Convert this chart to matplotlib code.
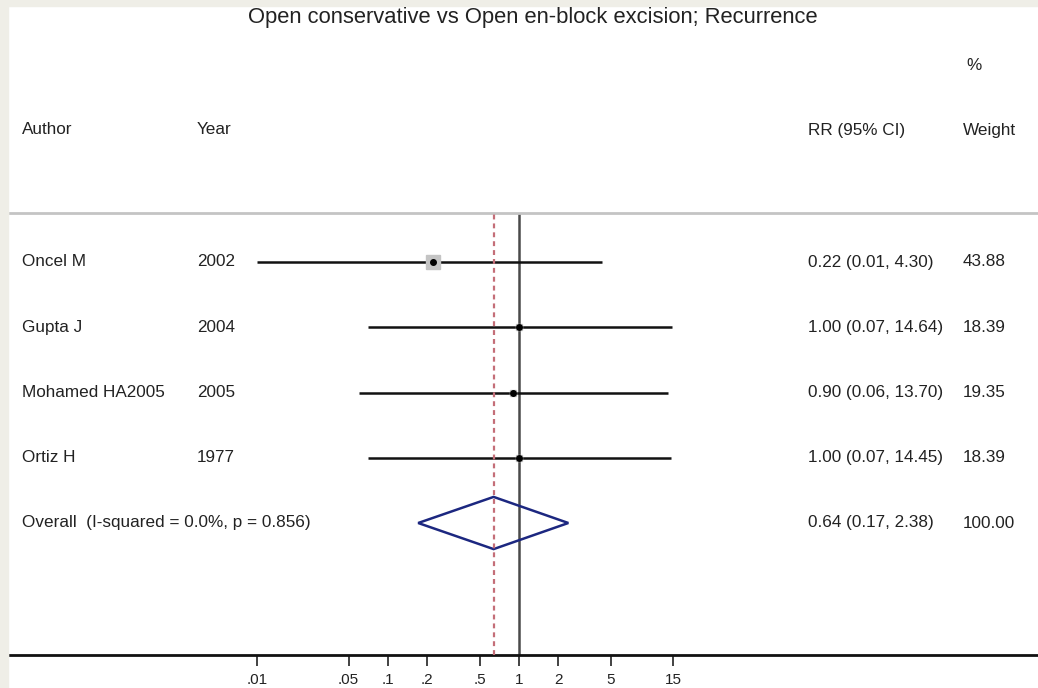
import numpy as np
import matplotlib.pyplot as plt
from matplotlib.patches import Rectangle, Polygon
from matplotlib.transforms import blended_transform_factory

# study data
authors = ['Oncel M', 'Gupta J', 'Mohamed HA2005', 'Ortiz H']
years = ['2002', '2004', '2005', '1977']
rr = [0.22, 1.00, 0.90, 1.00]
ci_lo = [0.01, 0.07, 0.06, 0.07]
ci_hi = [4.30, 14.64, 13.70, 14.45]
weights = [43.88, 18.39, 19.35, 18.39]

# pooled estimate
overall_label = 'Overall  (I-squared = 0.0%, p = 0.856)'
overall_rr, overall_lo, overall_hi = 0.64, 0.17, 2.38
overall_weight = 100.00

tick_vals = [0.01, 0.05, 0.1, 0.2, 0.5, 1, 2, 5, 15]
tick_labels = ['.01', '.05', '.1', '.2', '.5', '1', '2', '5', '15']

plt.rcParams['font.family'] = ['Liberation Sans', 'DejaVu Sans']
W, H = 1038, 688
fig = plt.figure(figsize=(W / 100, H / 100), dpi=100)
fig.patch.set_facecolor('white')
# beige page edges
fig.patches.append(Rectangle((0, 1 - 6 / H), 1, 6 / H, transform=fig.transFigure,
                             color='#efeee7', zorder=0))
fig.patches.append(Rectangle((0, 0), 8 / W, 1, transform=fig.transFigure,
                             color='#efeee7', zorder=0))

ax = fig.add_axes([10 / W, (H - 655) / H, (W - 10) / W, (655 - 213) / H])
ax.set_facecolor('none')
ax.set_xscale('log')
ax.set_xlim(10 ** ((10 - 519) / 131), 10 ** ((W - 519) / 131))
ax.set_ylim((655 - 262) / 65.25, (213 - 262) / 65.25)

for s in ['left', 'right']:
    ax.spines[s].set_visible(False)
ax.spines['bottom'].set_linewidth(2)
ax.spines['bottom'].set_color('#111111')
ax.spines['top'].set_linewidth(2)
ax.spines['top'].set_color('#c4c4c4')
ax.set_yticks([])
ax.set_xticks(tick_vals)
ax.set_xticklabels(tick_labels)
ax.xaxis.set_minor_locator(plt.NullLocator())
ax.tick_params(axis='x', length=8, width=1.2, color='#222222', labelsize=11,
               labelcolor='#222222', pad=5)

# reference lines
ax.axvline(1, color='#4a4a4a', lw=1.8, zorder=2)
ax.axvline(overall_rr, color='#c46e78', lw=1.6, ls=(0, (2.2, 1.8)), zorder=6)

rows = np.arange(len(authors))
ax.hlines(rows, ci_lo, ci_hi, color='#111111', lw=1.8, zorder=3)
for y, r, w in zip(rows, rr, weights):
    ax.plot(r, y, 's', ms=10 * w / max(weights), color='#c4c4c4', zorder=4)
    ax.plot(r, y, 'o', ms=4, color='#000000', zorder=5)

oy = len(authors)
diamond = Polygon([(overall_lo, oy), (overall_rr, oy - 0.4),
                   (overall_hi, oy), (overall_rr, oy + 0.4)],
                  closed=True, fill=False, edgecolor='#1c2780', lw=1.8, zorder=4)
ax.add_patch(diamond)

# text columns
tr = blended_transform_factory(fig.transFigure, ax.transData)
tc = '#222222'
fs = 12.3
for y, a, yr, r, lo, hi, w in zip(rows, authors, years, rr, ci_lo, ci_hi, weights):
    ax.text(22 / W, y, a, transform=tr, fontsize=fs, color=tc, va='center')
    ax.text(197 / W, y, yr, transform=tr, fontsize=fs, color=tc, va='center')
    ax.text(808 / W, y, f'{r:.2f} ({lo:.2f}, {hi:.2f})', transform=tr,
            fontsize=fs, color=tc, va='center')
    ax.text(963 / W, y, f'{w:.2f}', transform=tr, fontsize=fs, color=tc, va='center')

ax.text(22 / W, oy, overall_label, transform=tr, fontsize=fs, color=tc, va='center')
ax.text(808 / W, oy, f'{overall_rr:.2f} ({overall_lo:.2f}, {overall_hi:.2f})',
        transform=tr, fontsize=fs, color=tc, va='center')
ax.text(963 / W, oy, f'{overall_weight:.2f}', transform=tr, fontsize=fs, color=tc,
        va='center')

hy = (130 - 262) / 65.25
for x, s in [(22, 'Author'), (197, 'Year'), (808, 'RR (95% CI)'), (963, 'Weight')]:
    ax.text(x / W, hy, s, transform=tr, fontsize=fs, color=tc, va='center', clip_on=False)
ax.text(966 / W, (66 - 262) / 65.25, '%', transform=tr, fontsize=fs, color=tc,
        va='center', clip_on=False)

fig.text(533 / W, 1 - 18 / H, 'Open conservative vs Open en-block excision; Recurrence',
         ha='center', va='center', fontsize=15.8, color=tc)

fig.savefig('out.png', dpi=100)
